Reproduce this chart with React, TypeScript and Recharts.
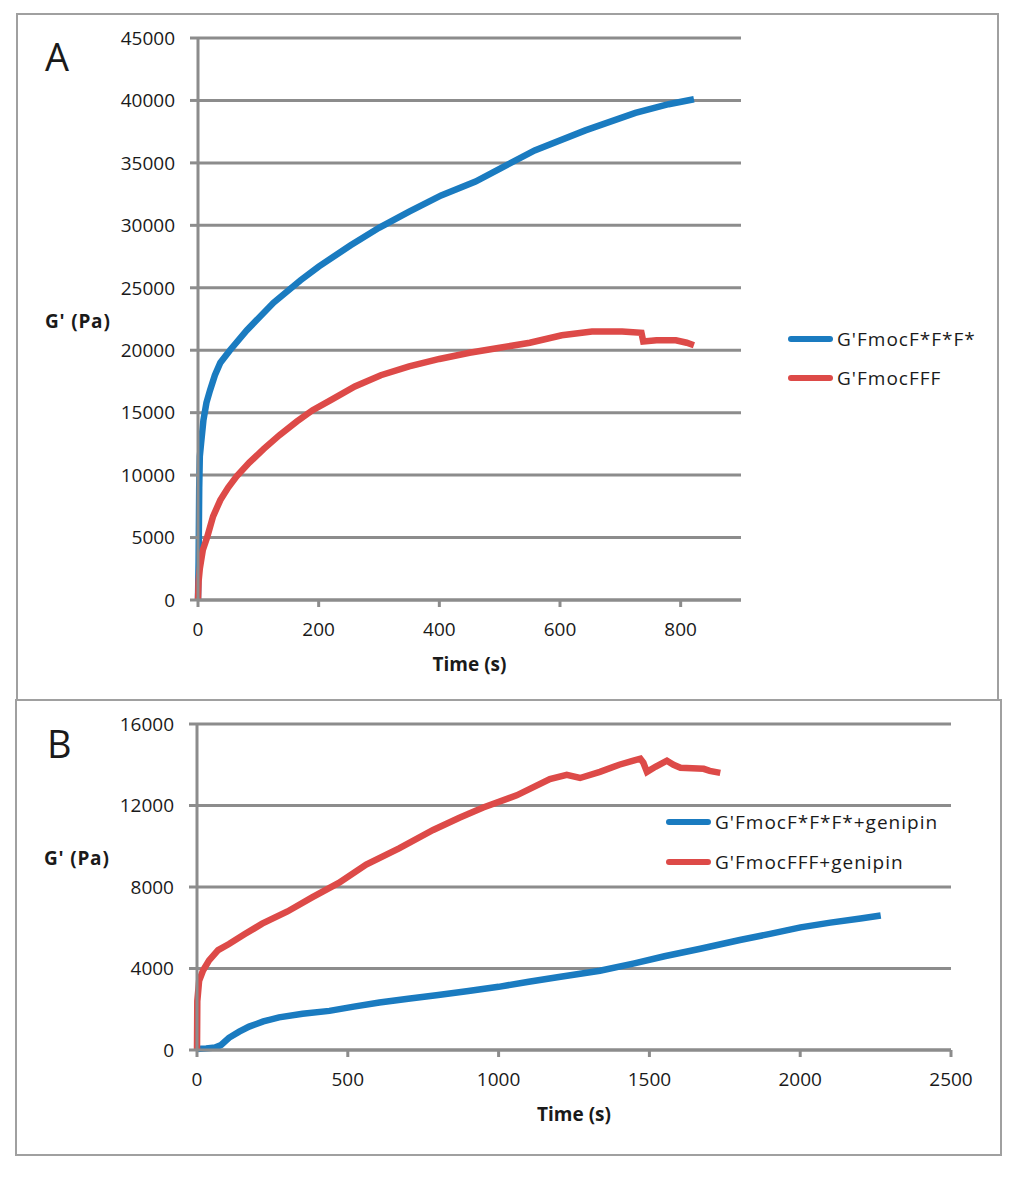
import React from "react";
import { LineChart, Line, XAxis, YAxis, CartesianGrid, Legend, Label } from "recharts";

const GRID = "#8c8c8c";
const BLUE = "#1a7bc0";
const RED = "#dd4a48";
const INK = "#1a1a1a";
const FONT = "'Open Sans', sans-serif";

// Panel A – G' vs time
const timeA_star = [0, 1, 2, 3, 5, 9, 14, 20, 28, 37, 53, 81, 125, 170, 200, 253, 300, 350, 403, 460, 503, 558, 642, 725, 780, 822];
const gA_star = [0, 3000, 9000, 11500, 12500, 14400, 15800, 16800, 18000, 19000, 20000, 21600, 23800, 25600, 26700, 28400, 29800, 31100, 32400, 33500, 34600, 36000, 37600, 39000, 39700, 40100];

const timeA_fff = [0, 1, 3, 8, 15, 25, 37, 50, 64, 85, 109, 135, 164, 190, 220, 260, 303, 350, 400, 450, 500, 550, 603, 653, 703, 735, 738, 760, 792, 810, 822];
const gA_fff = [0, 1500, 2500, 4000, 5000, 6700, 8000, 9000, 9900, 11000, 12100, 13200, 14300, 15200, 16000, 17100, 18000, 18700, 19300, 19800, 20200, 20600, 21200, 21500, 21500, 21400, 20700, 20800, 20800, 20600, 20400];

const ticksA_x = [0, 200, 400, 600, 800];
const ticksA_y = [0, 5000, 10000, 15000, 20000, 25000, 30000, 35000, 40000, 45000];

// Panel B – with genipin
const timeB_star = [0, 30, 60, 80, 106, 140, 173, 220, 272, 350, 439, 520, 605, 700, 800, 900, 1000, 1100, 1200, 1336, 1450, 1550, 1669, 1800, 1900, 2001, 2100, 2200, 2267];
const gB_star = [50, 80, 120, 250, 600, 900, 1150, 1400, 1600, 1780, 1920, 2130, 2330, 2520, 2700, 2900, 3100, 3350, 3580, 3890, 4250, 4600, 4970, 5400, 5700, 6020, 6250, 6450, 6600];

const timeB_fff = [0, 1, 7, 20, 40, 70, 106, 160, 216, 300, 383, 470, 561, 670, 783, 870, 949, 1060, 1170, 1226, 1270, 1336, 1400, 1447, 1470, 1480, 1492, 1520, 1558, 1580, 1603, 1680, 1700, 1735];
const gB_fff = [0, 2400, 3400, 3900, 4400, 4900, 5200, 5700, 6200, 6800, 7500, 8200, 9100, 9900, 10800, 11400, 11900, 12500, 13300, 13500, 13350, 13650, 14000, 14200, 14300, 14100, 13650, 13900, 14200, 14000, 13850, 13800, 13700, 13600];

const ticksB_x = [0, 500, 1000, 1500, 2000, 2500];
const ticksB_y = [0, 4000, 8000, 12000, 16000];

const zip = (t: number[], v: number[]) => t.map((x, i) => ({ t: x, v: v[i] }));

const tickStyle = { fontFamily: FONT, fontSize: 19, fill: INK };

const yLabel = (dy: number) => (props: any) => {
  const vb = props.viewBox;
  return (
    <text x={vb.x - 73} y={vb.y + vb.height / 2 + dy} fontFamily={FONT} fontWeight={700} fontSize={19} letterSpacing={0.8} fill={INK} dominantBaseline="central">
      G' (Pa)
    </text>
  );
};

const xLabel = (props: any) => {
  const vb = props.viewBox;
  return (
    <text x={vb.x + vb.width / 2} y={vb.y + 64} fontFamily={FONT} fontWeight={700} fontSize={19} fill={INK} textAnchor="middle" dominantBaseline="central">
      Time (s)
    </text>
  );
};

const legendContent = (rowH: number) => (props: any) => (
  <div>
    {props.payload.map((e: any) => (
      <div key={e.value} style={{ display: "flex", alignItems: "center", height: rowH, whiteSpace: "nowrap" }}>
        <span style={{ display: "inline-block", flexShrink: 0, width: 45, height: 6, background: e.color, borderRadius: 3, marginRight: 4 }} />
        <span style={{ fontFamily: FONT, fontSize: 19, color: INK, letterSpacing: 1 }}>{e.value}</span>
      </div>
    ))}
  </div>
);

function Panel(props: {
  top: number;
  height: number;
  margin: { top: number; right: number; left: number; bottom: number };
  xTicks: number[];
  xMax: number;
  yTicks: number[];
  yMax: number;
  star: { t: number; v: number }[];
  fff: { t: number; v: number }[];
  starName: string;
  fffName: string;
  yLabelDy: number;
  legendPos: { left: number; top: number };
  rowH: number;
}) {
  return (
    <div style={{ position: "absolute", left: 0, top: props.top }}>
      <LineChart width={1024} height={props.height} margin={props.margin}>
        <CartesianGrid vertical={false} stroke={GRID} strokeWidth={3} />
        <XAxis
          type="number"
          dataKey="t"
          domain={[0, props.xMax]}
          ticks={props.xTicks}
          height={30}
          tick={tickStyle}
          tickSize={7}
          tickMargin={16}
          axisLine={{ stroke: GRID, strokeWidth: 3 }}
          tickLine={{ stroke: GRID, strokeWidth: 3 }}
          interval={0}
        >
          <Label content={xLabel} />
        </XAxis>
        <YAxis
          type="number"
          domain={[0, props.yMax]}
          ticks={props.yTicks}
          width={80}
          tick={tickStyle}
          tickSize={8}
          tickMargin={15}
          axisLine={{ stroke: GRID, strokeWidth: 3 }}
          tickLine={{ stroke: GRID, strokeWidth: 3 }}
          interval={0}
        >
          <Label content={yLabel(props.yLabelDy)} />
        </YAxis>
        <Legend
          layout="horizontal"
          verticalAlign="middle"
          align="center"
          content={legendContent(props.rowH)}
          wrapperStyle={{ left: props.legendPos.left, top: props.legendPos.top, width: 320 }}
        />
        <Line data={props.star} dataKey="v" name={props.starName} type="linear" stroke={BLUE} strokeWidth={6.5} dot={false} isAnimationActive={false} />
        <Line data={props.fff} dataKey="v" name={props.fffName} type="linear" stroke={RED} strokeWidth={6.5} dot={false} isAnimationActive={false} />
      </LineChart>
    </div>
  );
}

const letterStyle: React.CSSProperties = {
  position: "absolute",
  fontFamily: FONT,
  fontSize: 38,
  lineHeight: "38px",
  color: INK,
};

export default function App() {
  return (
    <div style={{ position: "absolute", left: 0, top: 0, width: 1024, height: 1181, background: "#fff" }}>
      <div style={{ position: "absolute", left: 16, top: 13, width: 983, height: 688, border: "2px solid #a0a0a0", boxSizing: "border-box" }} />
      <div style={{ position: "absolute", left: 15, top: 699, width: 987, height: 457, border: "2px solid #a0a0a0", boxSizing: "border-box" }} />
      <div style={{ ...letterStyle, left: 45, top: 37 }}>A</div>
      <div style={{ ...letterStyle, left: 47, top: 724 }}>B</div>
      <Panel
        top={0}
        height={700}
        margin={{ top: 38, right: 283, left: 118, bottom: 70 }}
        xTicks={ticksA_x}
        xMax={900}
        yTicks={ticksA_y}
        yMax={45000}
        star={zip(timeA_star, gA_star)}
        fff={zip(timeA_fff, gA_fff)}
        starName="G'FmocF*F*F*"
        fffName="G'FmocFFF"
        yLabelDy={2}
        legendPos={{ left: 788, top: 319 }}
        rowH={39}
      />
      <Panel
        top={700}
        height={481}
        margin={{ top: 24, right: 73, left: 117, bottom: 101 }}
        xTicks={ticksB_x}
        xMax={2500}
        yTicks={ticksB_y}
        yMax={16000}
        star={zip(timeB_star, gB_star)}
        fff={zip(timeB_fff, gB_fff)}
        starName="G'FmocF*F*F*+genipin"
        fffName="G'FmocFFF+genipin"
        yLabelDy={-29}
        legendPos={{ left: 666, top: 102 }}
        rowH={40}
      />
    </div>
  );
}
